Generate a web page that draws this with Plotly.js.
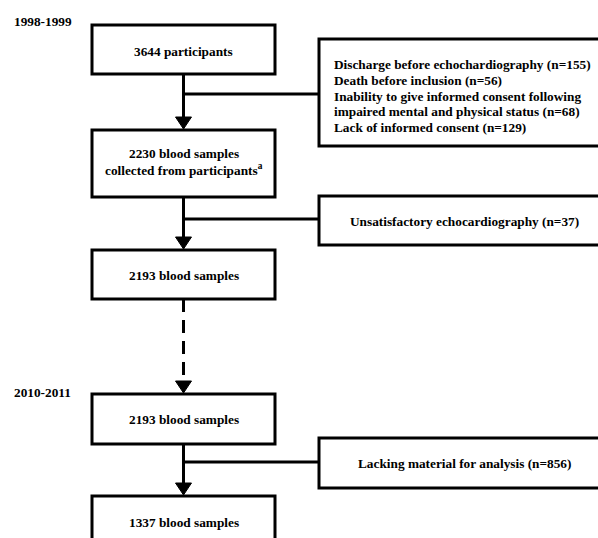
<!DOCTYPE html>
<html><head><meta charset="utf-8">
<script src="https://cdn.plot.ly/plotly-3.0.1.min.js"></script>
<style>html,body{margin:0;padding:0;background:#fff}</style>
</head><body><div id="chart" style="width:598px;height:538px"></div>
<script>
// ---- content ----
const periods = ["1998-1999", "2010-2011"];
const mainSteps = [
  ["3644 participants"],
  ["2230 blood samples", "collected from participants<sup>a</sup>"],
  ["2193 blood samples"],
  ["2193 blood samples"],
  ["1337 blood samples"]
];
const exclusions = [
  ["Discharge before echochardiography (n=155)",
   "Death before inclusion (n=56)",
   "Inability to give informed consent following",
   "impaired mental and physical status (n=68)",
   "Lack of informed consent (n=129)"],
  ["Unsatisfactory echocardiography (n=37)"],
  ["Lacking material for analysis (n=856)"]
];
const dashedStep = [false, false, true, false]; // connector after step i

// ---- geometry ----
const mainX0 = 92, mainX1 = 275, cx = 183.5;
const mainBoxes = [[25,74],[130,197],[250,299],[394,444],[496,580]];
const mainTextY = [[51],[153,169],[275],[419],[522]];
const exclBoxes = [[39,146],[196,245],[438,488]];
const exclX0 = 319, exclX1 = 640;
const exclTextY = [[64,80,96,111,127],[221],[463]];
const exclAlignLeft = [true, false, false];
const exclTextX = [332, 464, 464];
const branchY = [94, 219, 462];
const periodY = [21, 392];
const periodX = 12;

const FONT = {family: "Liberation Serif, 'Times New Roman', serif", size: 13.3, color: "#000"};
const LW = 3;

const shapes = [];
const annotations = [];

mainBoxes.forEach((b, i) => {
  shapes.push({type:'rect', xref:'x', yref:'y', x0:mainX0, x1:mainX1, y0:b[0], y1:b[1],
    line:{color:'#000', width:LW}, fillcolor:'rgba(0,0,0,0)'});
  mainSteps[i].forEach((t, j) => {
    annotations.push({xref:'x', yref:'y', x:cx, y:mainTextY[i][j], text:'<b>'+t+'</b>',
      showarrow:false, xanchor:'center', yanchor:'middle', font:FONT});
  });
});

for (let i = 0; i < mainBoxes.length - 1; i++) {
  const yA = mainBoxes[i][1], yB = mainBoxes[i+1][0];
  shapes.push({type:'line', xref:'x', yref:'y', x0:cx, x1:cx, y0:yA, y1:yB - 12,
    line:{color:'#000', width:LW, dash: dashedStep[i] ? '13px,8px' : 'solid'}});
  shapes.push({type:'path', xref:'x', yref:'y',
    path:`M ${cx-8},${yB-13} L ${cx+8},${yB-13} L ${cx},${yB-1} Z`,
    fillcolor:'#000', line:{color:'#000', width:1}});
}

exclBoxes.forEach((b, i) => {
  shapes.push({type:'rect', xref:'x', yref:'y', x0:exclX0, x1:exclX1, y0:b[0], y1:b[1],
    line:{color:'#000', width:LW}, fillcolor:'rgba(0,0,0,0)'});
  shapes.push({type:'line', xref:'x', yref:'y', x0:cx, x1:exclX0, y0:branchY[i], y1:branchY[i],
    line:{color:'#000', width:LW}});
  exclusions[i].forEach((t, j) => {
    annotations.push({xref:'x', yref:'y', x:exclTextX[i], y:exclTextY[i][j], text:'<b>'+t+'</b>',
      showarrow:false, xanchor: exclAlignLeft[i] ? 'left' : 'center', yanchor:'middle',
      align: exclAlignLeft[i] ? 'left' : 'center', font:FONT});
  });
});

periods.forEach((p, i) => {
  annotations.push({xref:'x', yref:'y', x:periodX, y:periodY[i], text:'<b>'+p+'</b>',
    showarrow:false, xanchor:'left', yanchor:'middle', font:FONT});
});

const layout = {
  width:598, height:538, margin:{l:0, r:0, t:0, b:0},
  paper_bgcolor:'#fff', plot_bgcolor:'#fff', showlegend:false,
  xaxis:{range:[0,598], visible:false, fixedrange:true},
  yaxis:{range:[538,0], visible:false, fixedrange:true},
  shapes, annotations
};
Plotly.newPlot('chart', [{type:'scatter', x:[], y:[], hoverinfo:'skip'}], layout,
  {staticPlot:true, displayModeBar:false});
</script></body></html>
